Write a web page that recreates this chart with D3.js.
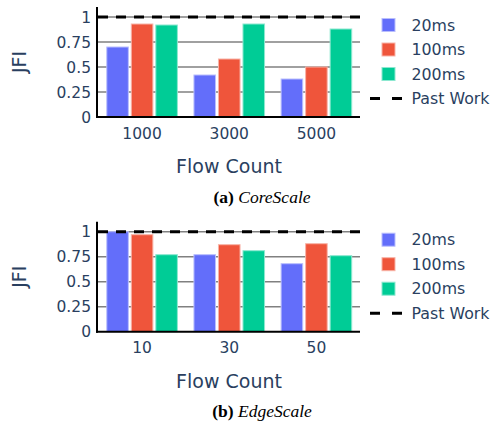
<!DOCTYPE html>
<html>
<head>
<meta charset="utf-8">
<script src="https://cdn.jsdelivr.net/npm/d3@7"></script>
<style>
  body { margin: 0; background: #fff; }
  svg { display: block; }
</style>
</head>
<body>
<div id="chart"></div>
<script>
// chart values
const seriesNames = ["20ms", "100ms", "200ms"];
const seriesColors = ["#636efa", "#ef553b", "#00cc96"];
const yTicks = [0, 0.25, 0.5, 0.75, 1];
const pastWork = 1;

const coreFlows = ["1000", "3000", "5000"];
const core20 = [0.70, 0.42, 0.38];
const core100 = [0.93, 0.58, 0.50];
const core200 = [0.92, 0.93, 0.88];

const edgeFlows = ["10", "30", "50"];
const edge20 = [1.00, 0.77, 0.68];
const edge100 = [0.97, 0.87, 0.88];
const edge200 = [0.77, 0.81, 0.76];

const W = 491, H = 421;
const font = "'DejaVu Sans', Verdana, sans-serif";
const textColor = "#2a3f5f";

const svg = d3.select("#chart").append("svg")
  .attr("width", W)
  .attr("height", H);

function panel(offsetY, cats, values, label, name) {
  const g = svg.append("g").attr("transform", `translate(0,${offsetY})`);

  const x = d3.scaleBand().domain(cats).range([98.5, 360]).padding(0);
  const y = d3.scaleLinear().domain([0, 1.1]).range([117, 7]);
  const groupW = x.bandwidth() * 0.81;
  const xs = d3.scaleBand().domain(seriesNames).range([0, groupW]).paddingInner(0.12);

  // gridlines
  g.append("g")
    .selectAll("line")
    .data(yTicks.filter(d => d > 0))
    .join("line")
    .attr("x1", 98).attr("x2", 360)
    .attr("y1", d => y(d)).attr("y2", d => y(d))
    .attr("stroke", "#808080")
    .attr("stroke-width", 1.5);

  // bars
  const rows = [];
  cats.forEach((c, i) => {
    seriesNames.forEach((s, j) => rows.push({ cat: c, s: s, j: j, v: values[j][i] }));
  });
  g.append("g")
    .selectAll("rect")
    .data(rows)
    .join("rect")
    .attr("x", d => x(d.cat) + (x.bandwidth() - groupW) / 2 + xs(d.s))
    .attr("y", d => y(d.v))
    .attr("width", xs.bandwidth())
    .attr("height", d => y(0) - y(d.v))
    .attr("fill", d => seriesColors[d.j])
    .attr("stroke", d => d3.interpolateRgb(seriesColors[d.j], "#fff")(0.55))
    .attr("stroke-width", 1);

  // past work line
  g.append("line")
    .attr("x1", 98).attr("x2", 360)
    .attr("y1", y(pastWork)).attr("y2", y(pastWork))
    .attr("stroke", "#000")
    .attr("stroke-width", 3)
    .attr("stroke-dasharray", "10,8");

  // axes lines
  g.append("line")
    .attr("x1", 97).attr("x2", 97)
    .attr("y1", y(1.1)).attr("y2", y(0) + 1)
    .attr("stroke", "#000").attr("stroke-width", 2);
  g.append("line")
    .attr("x1", 96).attr("x2", 360)
    .attr("y1", y(0)).attr("y2", y(0))
    .attr("stroke", "#000").attr("stroke-width", 2);

  // tick labels
  g.append("g")
    .selectAll("text")
    .data(yTicks)
    .join("text")
    .attr("x", 91)
    .attr("y", d => y(d))
    .attr("dy", "0.36em")
    .attr("text-anchor", "end")
    .attr("font-family", font)
    .attr("font-size", "15.5px")
    .attr("fill", textColor)
    .text(d => d);

  g.append("g")
    .selectAll("text")
    .data(cats)
    .join("text")
    .attr("x", d => x(d) + x.bandwidth() / 2)
    .attr("y", 138.5)
    .attr("text-anchor", "middle")
    .attr("font-family", font)
    .attr("font-size", "15.5px")
    .attr("fill", textColor)
    .text(d => d);

  // axis titles
  g.append("text")
    .attr("x", 229).attr("y", 173)
    .attr("text-anchor", "middle")
    .attr("font-family", font)
    .attr("font-size", "19px")
    .attr("fill", textColor)
    .text("Flow Count");

  g.append("text")
    .attr("transform", `translate(25.5,62) rotate(-90)`)
    .attr("text-anchor", "middle")
    .attr("font-family", font)
    .attr("font-size", "19px")
    .attr("fill", textColor)
    .text("JFI");

  // legend
  const leg = g.append("g");
  seriesNames.forEach((s, i) => {
    const cy = 25 + i * 24.5;
    leg.append("rect")
      .attr("x", 382).attr("y", cy - 6.5)
      .attr("width", 13).attr("height", 13)
      .attr("fill", seriesColors[i])
      .attr("stroke", d3.interpolateRgb(seriesColors[i], "#fff")(0.55))
      .attr("stroke-width", 1);
    leg.append("text")
      .attr("x", 411.5).attr("y", cy)
      .attr("dy", "0.36em")
      .attr("font-family", font)
      .attr("font-size", "15.8px")
      .attr("fill", textColor)
      .text(s);
  });
  leg.append("line")
    .attr("x1", 370).attr("x2", 402)
    .attr("y1", 98.5).attr("y2", 98.5)
    .attr("stroke", "#000")
    .attr("stroke-width", 3)
    .attr("stroke-dasharray", "10,12");
  leg.append("text")
    .attr("x", 411.5).attr("y", 98.5)
    .attr("dy", "0.36em")
    .attr("font-family", font)
    .attr("font-size", "15.8px")
    .attr("fill", textColor)
    .text("Past Work");

  // caption
  const cap = g.append("text")
    .attr("x", 262).attr("y", 202.5)
    .attr("text-anchor", "middle")
    .attr("font-family", "'Liberation Serif', 'Times New Roman', serif")
    .attr("font-size", "17.5px")
    .attr("fill", "#000");
  cap.append("tspan").attr("font-weight", "bold").text(label);
  cap.append("tspan").text(" ");
  cap.append("tspan").attr("font-style", "italic").text(name);
}

panel(0, coreFlows, [core20, core100, core200], "(a)", "CoreScale");
panel(214.7, edgeFlows, [edge20, edge100, edge200], "(b)", "EdgeScale");
</script>
</body>
</html>
